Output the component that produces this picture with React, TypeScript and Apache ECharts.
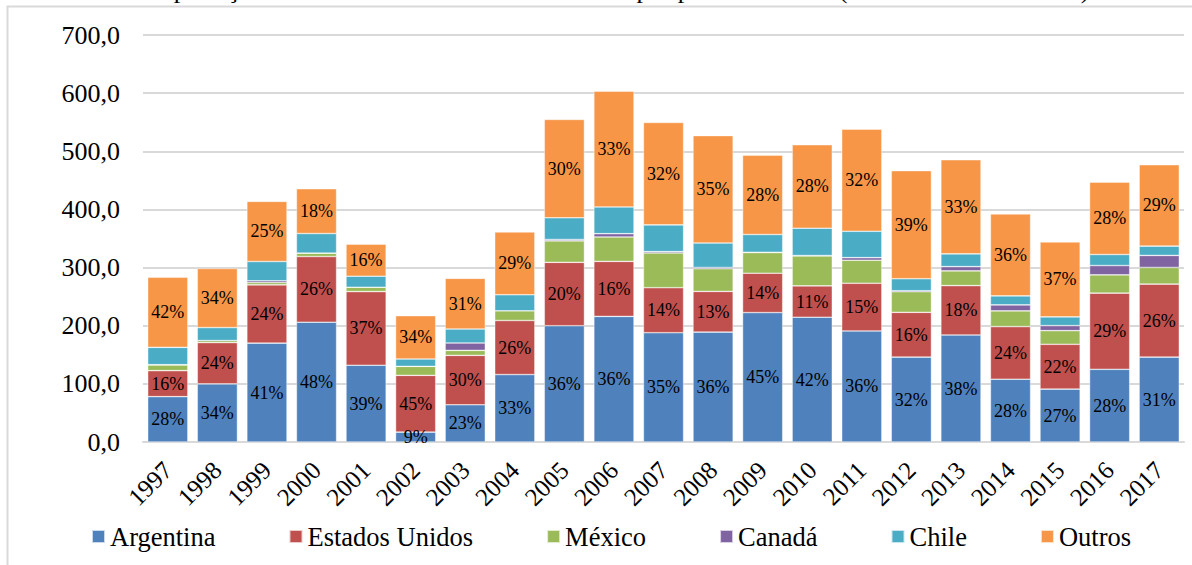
import React, { useEffect, useRef } from "react";
import * as echarts from "echarts";

const years = ["1997","1998","1999","2000","2001","2002","2003","2004","2005","2006","2007","2008","2009","2010","2011","2012","2013","2014","2015","2016","2017"];

const argentina = [78, 100, 170, 206, 132, 17, 64, 116, 200, 216, 188, 189, 222.6, 214.6, 191, 146, 184, 108, 91, 125, 146];
const estadosUnidos = [44.7, 71, 100.3, 113, 126.7, 97.6, 85, 93, 109, 94.6, 77.4, 70, 67.7, 54, 82, 77, 85, 90.5, 77, 131, 125.6];
const mexico = [9.8, 3.5, 4, 5.8, 7.5, 15.5, 8.6, 16.7, 37, 42, 59.7, 39, 35.5, 51.6, 39.6, 35.5, 25.3, 27, 23.5, 31.5, 28.6];
const canada = [0.5, 0, 3, 0, 0, 0, 12.7, 0, 2.3, 5.7, 2.3, 2.2, 0.6, 0.5, 4.5, 1.7, 7.4, 10.3, 8.7, 16, 20.7];
const chile = [29.8, 22.3, 33.2, 33.8, 19, 12.6, 24, 27.5, 37.3, 46, 46, 42, 30.5, 47, 45.3, 20.6, 21.9, 15.5, 15, 19, 16];
const outros = [120.5, 101.6, 103.3, 77, 55, 74.6, 87.2, 108, 169.2, 199, 176.1, 184.8, 136.5, 143.5, 175.7, 185.9, 161.8, 141, 129, 124.5, 140];

const argentinaPct = [28, 34, 41, 48, 39, 9, 23, 33, 36, 36, 35, 36, 45, 42, 36, 32, 38, 28, 27, 28, 31];
const estadosUnidosPct = [16, 24, 24, 26, 37, 45, 30, 26, 20, 16, 14, 13, 14, 11, 15, 16, 18, 24, 22, 29, 26];
const outrosPct = [42, 34, 25, 18, 16, 34, 31, 29, 30, 33, 32, 35, 28, 28, 32, 39, 33, 36, 37, 28, 29];

const titleText = "Gráfico 3 – Exportações da indústria de móveis e colchões por país de destino (em milhões de dólares) - 1997 a 2017";

const FONT = "'Liberation Serif', 'Times New Roman', serif";

export default function App() {
  const ref = useRef<HTMLDivElement>(null);
  useEffect(() => {
    if (!ref.current) return;
    const chart = echarts.init(ref.current, undefined, { renderer: "svg" });
    const pctLabel = (arr: number[]) => ({
      show: true,
      position: "inside",
      color: "#000",
      fontFamily: FONT,
      fontSize: 18,
      formatter: (p: any) => arr[p.dataIndex] + "%",
    });
    const mk = (name: string, data: number[], color: string, label?: any) => ({
      name,
      type: "bar",
      stack: "total",
      data,
      barCategoryGap: "19%",
      itemStyle: { color, borderColor: "rgba(255,255,255,0.7)", borderWidth: 0.6 },
      label: label || { show: false },
      emphasis: { disabled: true },
    });
    chart.setOption({
      animation: false,
      textStyle: { fontFamily: FONT },
      graphic: [
        {
          type: "rect",
          z: -10,
          shape: { x: 7.5, y: 6.5, width: 1200, height: 600 },
          style: { fill: "none", stroke: "#d9d9d9", lineWidth: 2 },
          silent: true,
        },
        {
          type: "text",
          x: 20,
          y: 2,
          style: {
            text: titleText,
            font: "26px " + FONT,
            fill: "#000",
            verticalAlign: "bottom",
          },
          silent: true,
        },
      ],
      grid: { left: 143, right: 8, top: 35, bottom: 123, containLabel: false },
      legend: {
        left: 86,
        top: 518,
        itemWidth: 13,
        itemHeight: 13,
        itemGap: 73,
        icon: "rect",
        textStyle: { fontFamily: FONT, fontSize: 26.5, color: "#000" },
        data: ["Argentina", "Estados Unidos", "México", "Canadá", "Chile", "Outros"],
      },
      xAxis: {
        type: "category",
        data: years,
        axisTick: { show: false },
        axisLine: { lineStyle: { color: "#d9d9d9", width: 2 } },
        axisLabel: {
          interval: 0,
          rotate: 45,
          margin: 24,
          color: "#000",
          fontFamily: FONT,
          fontSize: 25,
        },
      },
      yAxis: {
        type: "value",
        min: 0,
        max: 700,
        interval: 100,
        axisLine: { show: false },
        axisTick: { show: false },
        splitLine: { lineStyle: { color: "#d9d9d9", width: 2 } },
        axisLabel: {
          margin: 23,
          color: "#000",
          fontFamily: FONT,
          fontSize: 26,
          formatter: (v: number) => v.toFixed(1).replace(".", ","),
        },
      },
      series: [
        mk("Argentina", argentina, "#4F81BD", pctLabel(argentinaPct)),
        mk("Estados Unidos", estadosUnidos, "#C0504D", pctLabel(estadosUnidosPct)),
        mk("México", mexico, "#9BBB59"),
        mk("Canadá", canada, "#8064A2"),
        mk("Chile", chile, "#4BACC6"),
        mk("Outros", outros, "#F79646", pctLabel(outrosPct)),
      ],
    });
    return () => chart.dispose();
  }, []);
  return (
    <div
      ref={ref}
      style={{ position: "absolute", left: 0, top: 0, width: 1192, height: 565, background: "#fff" }}
    />
  );
}
